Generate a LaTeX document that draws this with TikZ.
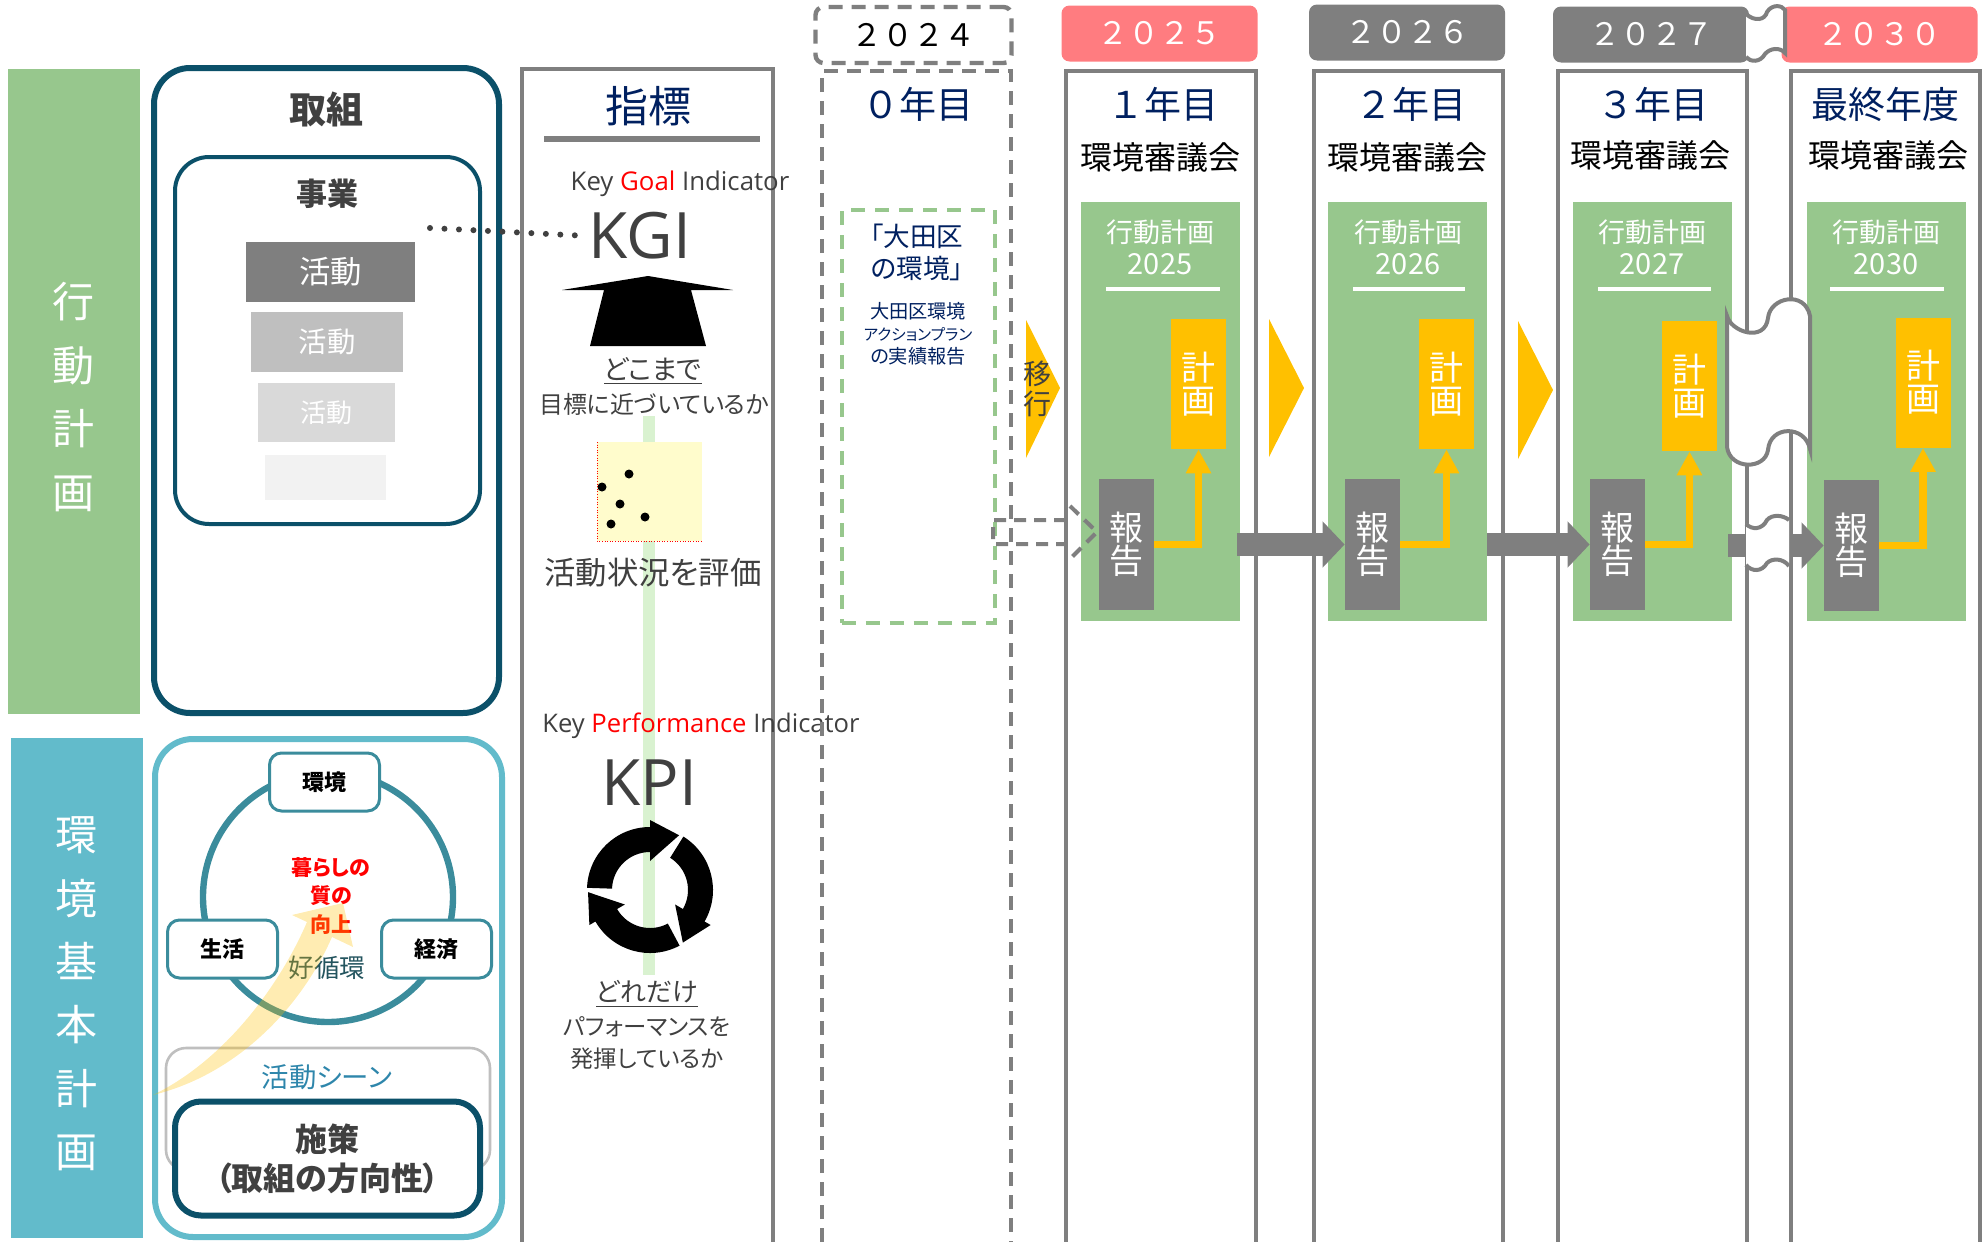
\documentclass[tikz,border=0pt]{standalone}
\usepackage{fontspec}
\setmainfont{Noto Sans CJK JP}[RawFeature={+palt}]
\newfontfamily\latinfont{Open Sans}
\newfontfamily\fullfont{Noto Sans CJK JP}
\usetikzlibrary{arrows.meta}
\definecolor{planGreen}{HTML}{97C78D}
\definecolor{baseTeal}{HTML}{62BBCB}
\definecolor{deepTeal}{HTML}{0B5069}
\definecolor{ringTeal}{HTML}{3B8C9C}
\definecolor{navyText}{HTML}{002060}
\definecolor{greyLine}{HTML}{7F7F7F}
\definecolor{darkText}{HTML}{404040}
\definecolor{amberFill}{HTML}{FFC000}
\definecolor{roseFill}{HTML}{FF7C80}
\definecolor{paleBar}{HTML}{D9F2D0}
\definecolor{sceneBlue}{HTML}{2E86AB}
\newcommand{\fsz}[2]{\fontsize{#1}{#2}\selectfont\lineskiplimit=-20pt}
\begin{document}
\begin{tikzpicture}[x=0.5pt,y=-0.5pt]
  \tikzstyle{txt}=[inner sep=0pt,align=center]
  \tikzstyle{band}=[txt,text=white,font=\fsz{21}{31.7}]
  \tikzstyle{activity}=[txt,text=white]
  \tikzstyle{sphere}=[txt,draw=ringTeal,fill=white,line width=1.5pt,rounded corners=6pt,minimum width=55pt,minimum height=29pt,font=\fsz{11}{13}\bfseries]
  \tikzstyle{yearline}=[draw=greyLine,line width=2.2pt]
  \tikzstyle{yearhead}=[txt,rounded corners=4pt,minimum width=98pt,minimum height=28pt,text=white,font=\fullfont\fsz{15.5}{18}]
  \tikzstyle{coltitle}=[txt,text=navyText,font=\fullfont\fsz{18.5}{20}]
  \tikzstyle{council}=[txt,font=\fsz{16}{18}]
  \tikzstyle{panel}=[fill=planGreen,inner sep=0pt,minimum width=79.5pt,minimum height=209.5pt]
  \tikzstyle{plan}=[txt,fill=amberFill,text=white,minimum width=27.5pt,minimum height=65pt,font=\fsz{17}{16.5}]
  \tikzstyle{report}=[txt,fill=greyLine,text=white,minimum width=27.5pt,minimum height=65.5pt,font=\fsz{17}{16.5}]
  \tikzstyle{chevron}=[fill=amberFill]
  \tikzstyle{planarrow}=[draw=amberFill,line width=3.7pt,-{Triangle[length=12pt,width=12pt]}]
  \tikzstyle{flow}=[draw=greyLine,line width=11.5pt,-{Triangle[length=11pt,width=22.5pt]}]
  \tikzstyle{cut}=[fill=white,draw=greyLine,line width=2pt]
  \useasboundingbox (0,0) rectangle (1987,1242);
  % side bands
  \node[inner sep=0pt,fill=planGreen,minimum width=66pt,minimum height=322.5pt] (planband) at (74,391.5) {};
  \node[inner sep=0pt,fill=baseTeal,minimum width=66pt,minimum height=250pt] (baseband) at (77,988) {};
  \node[band] (plantitle) at (74,397) {行\\動\\計\\画};
  \node[band] (basetitle) at (76,994) {環\\境\\基\\本\\計\\画};
  % efforts
  \node[draw=deepTeal,line width=3pt,rounded corners=18pt,minimum width=172.5pt,minimum height=322.5pt,inner sep=0pt] (efforts) at (326.5,390.5) {};
  \node[txt,text=darkText,font=\fsz{18.5}{20}\bfseries] (effortstitle) at (326,109) {取組};
  \node[draw=deepTeal,line width=2pt,rounded corners=17pt,minimum width=152.5pt,minimum height=183.5pt,inner sep=0pt] (project) at (327.5,340.5) {};
  \node[txt,text=darkText,font=\fsz{15.5}{17}\bfseries] (projecttitle) at (327,194) {事業};
  \node[activity,fill=greyLine,minimum width=84.5pt,minimum height=30pt,font=\fsz{15.7}{17}] (activitya) at (330.5,272) {活動};
  \node[activity,fill=black!25,minimum width=76pt,minimum height=30pt,font=\fsz{14.2}{15}] (activityb) at (327,342) {活動};
  \node[activity,fill=black!15,minimum width=68.5pt,minimum height=29.5pt,font=\fsz{13}{14}] (activityc) at (326.5,412.5) {活動};
  \node[fill=black!5,inner sep=0pt,minimum width=60.5pt,minimum height=22.5pt] (activityd) at (325.5,477.5) {};
  \coordinate (dotstart) at (430,228);
  % indicators
  \fill[paleBar] (643,416) rectangle (655,975);
  \draw[yearline] (522,1242) |- (773,69) -- (773,1242);
  \node[txt,text=navyText,font=\fsz{21.5}{23}] (indicatortitle) at (648,106) {指標};
  \draw[greyLine,line width=3pt] (544,139) -- (760,139);
  \node[txt,text=darkText,font=\latinfont\fsz{12.9}{14}] (kginame) at (680,184) {Key {\color{red}Goal} Indicator};
  \node[txt,text=darkText,font=\latinfont\fsz{32}{36}] (kgi) at (640,236) {KGI};
  \draw[darkText,line width=3pt,line cap=round,dash pattern=on 0pt off 7.25pt] (dotstart) -- (kgi.west);
  \fill[black] (648,276) -- (733,290) -- (691,290) -- (706,346) -- (590,346) -- (604,290) -- (562,290) -- cycle;
  \node[txt,text=darkText,font=\fsz{13.5}{15}] (howfar) at (653,371) {\underline{どこまで}};
  \node[txt,text=darkText,font=\fsz{12}{14}] (howfartext) at (654,404) {目標に近づいているか};
  \node[fill=yellow!20,inner sep=0pt,minimum width=52.5pt,minimum height=49.5pt] (scatter) at (649.5,491.5) {};
  \foreach \dx/\dy in {629/474,602/487,620/504,645/517,611/524}
    \fill[black] (\dx,\dy) circle (4.5);
  \draw[red,line width=0.3pt,densely dotted] (597,442) -- (597,541) -- (702,541);
  \node[txt,text=darkText,font=\fsz{15.7}{17}] (evaluate) at (653,573) {活動状況を評価};
  \node[txt,text=darkText,font=\latinfont\fsz{12.8}{14}] (kpiname) at (701,726) {Key {\color{red}Performance} Indicator};
  \node[txt,text=darkText,font=\latinfont\fsz{32}{36}] (kpi) at (649,783) {KPI};
  \begin{scope}[shift={(650,890)},y=0.5pt]
    \foreach \turn in {0,-120,-240}
      \fill[black,rotate=\turn] (178:63) arc[start angle=178,end angle=90,radius=63] -- (90:70) -- (62:62) -- (90:29) -- (90:38) arc[start angle=90,end angle=178,radius=38] -- cycle;
  \end{scope}
  \node[txt,text=darkText,font=\fsz{13}{15}] (howmuch) at (647,994) {\underline{どれだけ}};
  \node[txt,text=darkText,font=\fsz{11.7}{16}] (howmuchtext) at (647,1043) {パフォーマンスを\\発揮しているか};
  % basic plan
  \node[draw=baseTeal,line width=3pt,rounded corners=19pt,minimum width=173.5pt,minimum height=249pt,inner sep=0pt] (basebox) at (328.5,988) {};
  \node[draw=ringTeal,line width=3.2pt,circle,minimum size=125pt,inner sep=0pt] (ring) at (328,897) {};
  \node[sphere] (sphereenv) at (324.5,782) {環境};
  \node[sphere] (spherelife) at (222.5,949) {生活};
  \node[sphere] (sphereecon) at (436.5,949) {経済};
  \node[txt,text=red,font=\fsz{10.5}{14.2}\bfseries] (quality) at (331,896) {暮らしの\\質の\\向上};
  \node[txt,text=ringTeal!60!black,font=\fsz{12.8}{14}] (cycleword) at (327,968) {好循環};
  \node[draw=black!25,line width=1.3pt,rounded corners=10pt,minimum width=162pt,minimum height=61pt,inner sep=0pt] (scenebox) at (328,1109) {};
  \node[txt,text=sceneBlue,font=\fsz{13.7}{15}] (scene) at (327,1077) {活動シーン};
  \fill[amberFill,opacity=0.3] (153,1095) .. controls (225,1060) and (280,985) .. (307,922) -- (292,915) -- (343,903) -- (353,947) -- (332,937) .. controls (300,1010) and (235,1075) .. cycle;
  \node[txt,draw=deepTeal,fill=white,line width=3pt,rounded corners=13pt,minimum width=152.5pt,minimum height=57pt,text=darkText,font=\fsz{16}{19.5}\bfseries] (measure) at (327.5,1158.5) {施策\\（取組の方向性）};
  % year columns
  \draw[yearline,dashed,dash pattern=on 7pt off 4.5pt] (822,1242) |- (1011,71) -- (1011,1242);
  \draw[yearline] (1066,1242) |- (1256,71) -- (1256,1242);
  \draw[yearline] (1314,1242) |- (1503,71) -- (1503,1242);
  \draw[yearline] (1558,1242) |- (1747,71) -- (1747,1242);
  \draw[yearline] (1791,1242) |- (1980,71) -- (1980,1242);
  % headers
  \node[yearhead,draw=greyLine,line width=2.2pt,dash pattern=on 7pt off 4.5pt,text=black] (head2024) at (913.5,35) {２０２４};
  \node[yearhead,fill=roseFill] (head2025) at (1159.5,33.5) {２０２５};
  \node[yearhead,fill=greyLine] (head2026) at (1407,32.5) {２０２６};
  \node[yearhead,fill=greyLine] (head2027) at (1651,34.5) {２０２７};
  \node[yearhead,fill=roseFill] (head2030) at (1879.5,34.5) {２０３０};
  \draw[cut] (1746,14) .. controls (1755,22) and (1765,20) .. (1767,12) .. controls (1772,4) and (1782,5) .. (1785,10) -- (1785,53) .. controls (1780,47) and (1770,48) .. (1765,54) .. controls (1760,63) and (1750,62) .. (1746,57);
  \node[coltitle] (title0) at (918,104) {０年目};
  \node[coltitle] (title1) at (1163,104) {１年目};
  \node[coltitle] (title2) at (1411,104) {２年目};
  \node[coltitle] (title3) at (1653,104) {３年目};
  \node[coltitle] (title4) at (1885,104) {最終年度};
  \node[council] (council1) at (1160,157) {環境審議会};
  \node[council] (council2) at (1407,157) {環境審議会};
  \node[council] (council3) at (1650,155) {環境審議会};
  \node[council] (council4) at (1888,155) {環境審議会};
  % year zero
  \node[draw=planGreen,line width=2pt,dashed,dash pattern=on 7pt off 5pt,minimum width=76.5pt,minimum height=206.5pt,inner sep=0pt] (zerobox) at (918,416.5) {};
  \node[txt,text=navyText,font=\fsz{13.3}{16}] (zerotitle) at (917,252) {「大田区\\の環境」};
  \node[txt,text=navyText,font=\fsz{9.6}{11.3}] (zerotext) at (918,333.5) {大田区環境\\{\fsz{7.8}{11.3}アクションプラン}\\の実績報告};
  % chevrons
  \fill[chevron] (1026,320) -- (1060,388) -- (1026,458) -- cycle;
  \fill[chevron] (1269,319) -- (1304,388) -- (1269,457) -- cycle;
  \fill[chevron] (1518,321) -- (1553,390) -- (1518,459) -- cycle;
  \node[txt,text=darkText,font=\fsz{14}{15}] (shift) at (1037,389) {移\\行};
  % year panels
  \foreach \yr/\cx/\tx/\ra/\rb/\px/\py/\rx/\ry in {2025/1160.5/1160/1106/1220/1198.5/384/1126/544.5,2026/1407.5/1408/1353/1465/1446.5/384/1372.5/544.5,2027/1652/1652/1598/1711/1689.5/386/1617.5/544.5,2030/1886/1886/1830/1944/1923/382.5/1851.5/545.5}{
    \node[panel] (panel\yr) at (\cx,411.5) {};
    \node[txt,text=white,font=\fsz{13.5}{16}] (name\yr) at (\tx,247) {行動計画\\{\fsz{14.5}{16}\yr}};
    \draw[white,line width=1.8pt] (\ra,289) -- (\rb,289);
    \node[plan] (plan\yr) at (\px,\py) {計\\画};
    \node[report] (report\yr) at (\rx,\ry) {報\\告};
    \draw[planarrow] (report\yr.east) -| (plan\yr.south);
  }
  % flow
  \draw[draw=greyLine,line width=2pt,dash pattern=on 6pt off 4pt] (1066,520) -- (993,520) -- (993,544) -- (1066,544) (1070,506) -- (1097,532) -- (1070,559);
  \coordinate (flowa) at (1237,544.5);
  \coordinate (flowb) at (1487,544.5);
  \coordinate (flowc) at (1728,545.5);
  \draw[flow] (flowa) -- (report2026.west);
  \draw[flow] (flowb) -- (report2027.west);
  \draw[flow] (flowc) -- (report2030.west);
  % breaks
  \fill[white] (1746,524) -- (1789,520) -- (1789,566) -- (1746,565) -- cycle;
  \draw[draw=greyLine,line width=2pt] (1746,524) .. controls (1752,530) and (1762,530) .. (1767,520) .. controls (1772,514) and (1783,515) .. (1789,520);
  \draw[draw=greyLine,line width=2pt] (1746,565) .. controls (1752,572) and (1762,572) .. (1767,563) .. controls (1772,558) and (1783,558) .. (1789,566);
  \draw[cut] (1727,316) .. controls (1731,332) and (1765,343) .. (1768,318) .. controls (1770,297) and (1805,290) .. (1810,316) -- (1810,449) .. controls (1805,425) and (1770,425) .. (1768,450) .. controls (1765,470) and (1730,470) .. (1727,447) -- cycle;
\end{tikzpicture}
\end{document}
